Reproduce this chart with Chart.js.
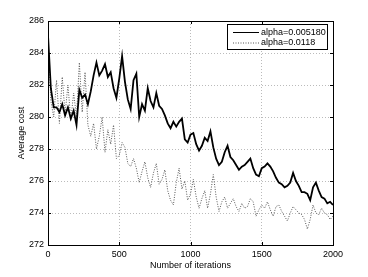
<!DOCTYPE html>
<html>
<head>
<meta charset="utf-8">
<script src="https://cdn.jsdelivr.net/npm/chart.js@4"></script>
<style>
  html, body { margin: 0; padding: 0; background: #fff; }
  #wrap { width: 368px; height: 277px; }
</style>
</head>
<body>
<div id="wrap"><canvas id="chart" width="368" height="277"></canvas></div>
<script>
// iterations sampled every 20 steps (0..2000)
const step = 20;
const seriesNames = ['alpha=0.005180', 'alpha=0.0118'];
const costSlow = [
  285.1, 281.8, 280.6, 280.6, 280.3, 280.8, 280.1, 280.6, 279.9, 280.4,
  279.5, 281.7, 281.2, 281.4, 280.8, 281.6, 282.6, 283.4, 282.6, 282.9,
  283.3, 282.5, 282.8, 281.8, 281.2, 282.4, 283.8, 282.2, 281.1, 280.5,
  282.3, 282.7, 280.0, 280.8, 280.4, 281.8, 281.0, 280.6, 281.5, 280.7,
  280.5, 280.1, 279.6, 279.3, 279.7, 279.4, 279.7, 279.9, 278.6, 278.4,
  278.9, 279.0, 278.3, 277.9, 278.2, 278.7, 278.5, 279.1, 278.1, 277.4,
  277.0, 277.2, 277.8, 278.2, 277.5, 277.3, 277.0, 276.7, 276.9, 277.0,
  277.2, 277.4, 276.8, 276.4, 276.3, 276.8, 276.9, 277.1, 276.9, 276.6,
  276.2, 275.9, 275.8, 275.6, 275.7, 275.9, 276.5, 276.0, 275.7, 275.3,
  275.3, 275.2, 274.8, 275.6, 275.9, 275.4, 275.0, 274.9, 274.6, 274.7,
  274.5
];
const costFast = [
  285.0, 281.0, 280.0, 282.3, 279.6, 282.5, 280.2, 282.0, 279.8, 281.5,
  280.0, 283.4, 280.3, 282.8, 279.5, 278.8, 279.6, 278.0, 278.8, 280.0,
  277.8, 279.2, 278.3, 279.5, 277.4, 277.6, 278.4, 278.1, 277.1, 276.9,
  277.4, 276.8, 275.9, 276.6, 277.2, 276.2, 275.6, 276.5, 277.1, 275.8,
  276.1, 276.7, 275.4, 274.8, 274.5, 275.9, 276.8, 275.5, 276.0, 274.8,
  275.2, 276.1, 275.0, 274.3, 274.9, 275.4, 274.3, 275.2, 276.4, 275.0,
  274.1, 274.7, 275.0, 274.3, 274.6, 274.9, 274.4, 274.1, 274.6, 274.3,
  274.4, 274.9, 274.7, 273.8, 274.2, 274.5, 274.3, 274.7, 274.2, 273.8,
  274.4, 274.5, 274.1, 273.8, 273.5, 274.0, 274.4, 274.2, 274.0, 273.9,
  273.6, 273.0, 273.6, 274.5, 274.0, 273.9, 274.3, 274.0, 273.9, 273.6,
  273.8
];
const xTicks = [0, 500, 1000, 1500, 2000];
const yTicks = [272, 274, 276, 278, 280, 282, 284, 286];

const toPoints = arr => arr.map((v, i) => ({ x: i * step, y: v }));
const font = { family: "'Liberation Sans', Arial, sans-serif", size: 9 };

// box around the plot area with inward ticks, plus the legend inside it
const framePlugin = {
  id: 'frame',
  afterDraw(chart) {
    const { ctx, chartArea: a, scales } = chart;
    ctx.save();
    ctx.strokeStyle = '#000';
    ctx.lineWidth = 1;
    ctx.strokeRect(Math.round(a.left) + 0.5, Math.round(a.top) + 0.5,
      Math.round(a.right - a.left), Math.round(a.bottom - a.top));
    ctx.beginPath();
    xTicks.forEach(t => {
      const px = Math.round(scales.x.getPixelForValue(t)) + 0.5;
      ctx.moveTo(px, a.bottom); ctx.lineTo(px, a.bottom - 3);
      ctx.moveTo(px, a.top); ctx.lineTo(px, a.top + 3);
    });
    yTicks.forEach(t => {
      const py = Math.round(scales.y.getPixelForValue(t)) + 0.5;
      ctx.moveTo(a.left, py); ctx.lineTo(a.left + 3, py);
      ctx.moveTo(a.right, py); ctx.lineTo(a.right - 3, py);
    });
    ctx.stroke();

    // legend
    const lx = 227.5, ly = 24.5, lw = 100, lh = 25;
    ctx.fillStyle = '#fff';
    ctx.fillRect(lx, ly, lw, lh);
    ctx.strokeRect(lx, ly, lw, lh);
    ctx.font = "9px 'Liberation Sans', Arial, sans-serif";
    ctx.textBaseline = 'middle';
    chart.data.datasets.forEach((ds, i) => {
      const y = 32.5 + i * 10.5;
      ctx.strokeStyle = ds.borderColor;
      ctx.lineWidth = 1;
      ctx.setLineDash(ds.borderDash || []);
      ctx.beginPath();
      ctx.moveTo(233, y); ctx.lineTo(259, y);
      ctx.stroke();
      ctx.setLineDash([]);
      ctx.fillStyle = '#000';
      ctx.fillText(ds.label, 261, y);
    });
    ctx.restore();
  }
};

new Chart(document.getElementById('chart'), {
  type: 'line',
  data: {
    datasets: [{
      label: seriesNames[0],
      data: toPoints(costSlow),
      borderColor: '#000',
      borderWidth: 1.8,
      pointRadius: 0,
      tension: 0
    }, {
      label: seriesNames[1],
      data: toPoints(costFast),
      borderColor: '#555',
      borderWidth: 1,
      borderDash: [1, 1.5],
      pointRadius: 0,
      tension: 0
    }]
  },
  options: {
    responsive: false,
    animation: false,
    layout: { padding: { left: 0, top: 21, right: 35, bottom: 0 } },
    plugins: { legend: { display: false }, tooltip: { enabled: false } },
    scales: {
      x: {
        type: 'linear', min: 0, max: 2000,
        afterBuildTicks: s => { s.ticks = xTicks.map(v => ({ value: v })); },
        afterFit: s => { s.height = 32; },
        ticks: { color: '#000', font, padding: 4, maxRotation: 0, callback: v => String(v) },
        grid: { color: '#bbb', drawTicks: false },
        border: { color: '#000', dash: [1, 2] },
        title: { display: true, text: 'Number of iterations', color: '#000', font, padding: { top: 0, bottom: 6 } }
      },
      y: {
        min: 272, max: 286,
        afterBuildTicks: s => { s.ticks = yTicks.map(v => ({ value: v })); },
        afterFit: s => { s.width = 48; },
        ticks: { color: '#000', font, padding: 4, callback: v => String(v) },
        grid: { color: '#bbb', drawTicks: false },
        border: { color: '#000', dash: [1, 2] },
        title: { display: true, text: 'Average cost', color: '#000', font, padding: { top: 16, bottom: 0 } }
      }
    }
  },
  plugins: [framePlugin]
});
</script>
</body>
</html>
